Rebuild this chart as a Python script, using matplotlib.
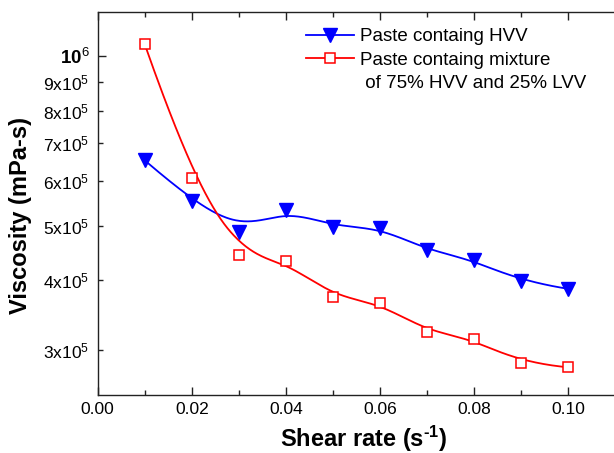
import numpy as np
import matplotlib
matplotlib.use("Agg")
import matplotlib.pyplot as plt
from matplotlib.lines import Line2D

plt.rcParams['font.family'] = ['Liberation Sans', 'DejaVu Sans']
plt.rcParams['mathtext.fontset'] = 'custom'
plt.rcParams['mathtext.rm'] = 'Liberation Sans'
plt.rcParams['mathtext.it'] = 'Liberation Sans:italic'
plt.rcParams['mathtext.bf'] = 'Liberation Sans:bold'

# ---- data ----
shear_rate = [0.01, 0.02, 0.03, 0.04, 0.05, 0.06, 0.07, 0.08, 0.09, 0.10]
visc_hvv = [6.53e5, 5.54e5, 4.88e5, 5.34e5, 4.98e5, 4.96e5, 4.52e5, 4.35e5, 3.98e5, 3.86e5]
visc_mix = [1.05e6, 6.07e5, 4.44e5, 4.32e5, 3.74e5, 3.64e5, 3.24e5, 3.15e5, 2.85e5, 2.80e5]
label_hvv = "Paste containg HVV"
label_mix = "Paste containg mixture"
label_mix2 = " of 75% HVV and 25% LVV"
x_ticks = [0.00, 0.02, 0.04, 0.06, 0.08, 0.10]
x_ticklabels = ["0.00", "0.02", "0.04", "0.06", "0.08", "0.10"]
y_minor = [3e5, 4e5, 5e5, 6e5, 7e5, 8e5, 9e5]
y_minor_labels = ["3x10$^5$", "4x10$^5$", "5x10$^5$", "6x10$^5$", "7x10$^5$", "8x10$^5$", "9x10$^5$"]
y_major = [1e6]
y_major_labels = [r"$\mathbf{10}^{6}$"]


def bspline_basis(t, k, u):
    m = len(t) - 1
    B = np.zeros((len(u), m))
    for i in range(m):
        B[:, i] = ((t[i] <= u) & (u < t[i + 1])).astype(float)
    last = np.max(np.nonzero(t[:-1] < t[1:])[0])
    end = np.isclose(u, t[-1])
    B[end, :] = 0
    B[end, last] = 1
    for p in range(1, k + 1):
        Bn = np.zeros((len(u), m - p))
        for i in range(m - p):
            d1 = t[i + p] - t[i]
            d2 = t[i + p + 1] - t[i + 1]
            term = np.zeros(len(u))
            if d1 > 0:
                term += (u - t[i]) / d1 * B[:, i]
            if d2 > 0:
                term += (t[i + p + 1] - u) / d2 * B[:, i + 1]
            Bn[:, i] = term
        B = Bn
    return B


def bspline_curve(xs, ys, k=3, num=400):
    xs = np.asarray(xs, float)
    ly = np.log10(np.asarray(ys, float))
    n = len(xs)
    t = np.concatenate([np.zeros(k + 1), np.arange(1, n - k), np.full(k + 1, n - k)]).astype(float)
    u = np.linspace(0, n - k, num)
    B = bspline_basis(t, k, u)
    return B @ xs, 10 ** (B @ ly)


W, H = 614, 453
fig = plt.figure(figsize=(W / 100, H / 100), dpi=100)
left_px, right_px, top_px, bot_px = 97.7, 615.4, 11.7, 395
ax = fig.add_axes([left_px / W, 1 - bot_px / H, (right_px - left_px) / W, (bot_px - top_px) / H])

blue = '#0000ff'
red = '#ff0000'

cx, cy = bspline_curve(shear_rate, visc_hvv)
ax.plot(cx, cy, color=blue, lw=1.3, zorder=2)
ax.plot(shear_rate, visc_hvv, linestyle='none', marker='v', ms=9.5, color=blue,
        markeredgecolor=blue, zorder=3)
cx, cy = bspline_curve(shear_rate, visc_mix)
ax.plot(cx, cy, color=red, lw=1.3, zorder=2)
ax.plot(shear_rate, visc_mix, linestyle='none', marker='s', ms=7.5, markerfacecolor='white',
        markeredgecolor=red, markeredgewidth=1.1, zorder=3)

ax.set_yscale('log')
ax.set_xlim(0, 0.11)
ax.set_ylim(2.5e5, 1.2e6)

ax.set_xticks(x_ticks, labels=x_ticklabels)
ax.set_xticks([0.01, 0.03, 0.05, 0.07, 0.09], minor=True)
ax.yaxis.set_major_locator(matplotlib.ticker.FixedLocator(y_major))
ax.yaxis.set_major_formatter(matplotlib.ticker.FixedFormatter(y_major_labels))
ax.yaxis.set_minor_locator(matplotlib.ticker.FixedLocator(y_minor))
ax.yaxis.set_minor_formatter(matplotlib.ticker.FixedFormatter(y_minor_labels))

ax.tick_params(which='both', direction='in', top=True, right=False, labelsize=12.5, width=1.0, color='#222222')
ax.tick_params(which='major', length=5.5)
ax.tick_params(which='minor', length=3.5)
ax.tick_params(axis='x', which='both', pad=5)
ax.tick_params(axis='y', which='both', pad=6)
for lbl in ax.get_yticklabels(which='major'):
    lbl.set_fontsize(13.5)
for s in ax.spines.values():
    s.set_linewidth(1.0)
    s.set_color('#222222')

ax.set_xlabel("Shear rate (s$^{\\mathbf{\u2010}\\mathbf{1}}$)", fontsize=17, fontweight='bold',
              va='baseline')
ax.set_ylabel("Viscosity (mPa-s)", fontsize=17, fontweight='bold')
aw = right_px - left_px
ah = bot_px - top_px
ax.xaxis.set_label_coords((363.9 - left_px) / aw, (bot_px - 446.7) / ah)
ax.yaxis.set_label_coords((32 - left_px) / aw, (bot_px - 216) / ah)

h1 = Line2D([], [], color=blue, lw=1.3, marker='v', ms=9.5, markeredgecolor=blue)
h2 = Line2D([], [], color=red, lw=1.3, marker='s', ms=7.5, markerfacecolor='white',
            markeredgecolor=red, markeredgewidth=1.1)
h3 = Line2D([], [], linestyle='none', marker=None)
leg = ax.legend([h1, h2, h3], [label_hvv, label_mix, label_mix2], loc='upper left',
                bbox_to_anchor=((306 - left_px) / aw, (bot_px - 28) / ah),
                frameon=False, fontsize=13.5, borderpad=0, borderaxespad=0,
                handlelength=2.56, handletextpad=0.32, labelspacing=0.34, numpoints=1)

fig.savefig('out.png', dpi=100)
